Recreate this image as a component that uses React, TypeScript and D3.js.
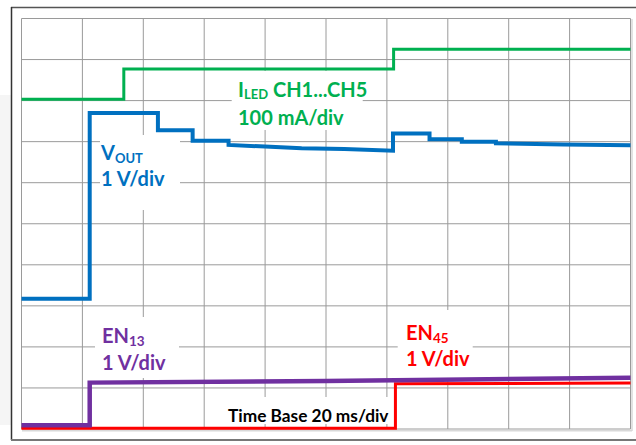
import React from "react";
import * as d3 from "d3";

// Time axis: 0..200 ms (20 ms/div, 10 div). Values in screen divisions from bottom (0..10).
const gridDivsX = d3.range(0, 11);
const gridDivsY = d3.range(0, 11);

const ledTrace: [number, number][] = [
  [0, 8.03], [33.6, 8.03], [33.6, 8.77], [122.2, 8.77], [122.2, 9.25], [200, 9.25],
];
const voutTrace: [number, number][] = [
  [0, 3.17], [22.4, 3.17], [22.4, 7.7], [44.8, 7.7], [44.8, 7.28], [56.2, 7.28],
  [56.2, 7.02], [68, 7.02], [68, 6.92], [80, 6.88], [92, 6.84], [106, 6.82],
  [122, 6.78], [122, 7.2], [134, 7.2], [134, 7.06], [144.6, 7.06], [144.6, 7.0],
  [155.8, 7.0], [155.8, 6.96], [178, 6.93], [200, 6.91],
];
const en13Trace: [number, number][] = [
  [0, 0.09], [22.4, 0.09], [22.4, 1.13], [100, 1.17], [200, 1.25],
];
const en45Trace: [number, number][] = [
  [0, 0.02], [122.8, 0.02], [122.8, 1.1], [200, 1.12],
];

const W = 636;
const H = 445;
const GX0 = 21.5, GX1 = 630.5, GY0 = 18.5, GY1 = 429;

const GREEN = "#00b050";
const BLUE = "#0070c0";
const PURPLE = "#7030a0";
const RED = "#ff0000";
const FONT = "Lato, 'Open Sans', sans-serif";

export default function App() {
  const x = d3.scaleLinear().domain([0, 200]).range([GX0, GX1]);
  const y = d3.scaleLinear().domain([0, 10]).range([GY1, GY0]);
  const line = d3.line<[number, number]>().x((d) => x(d[0])).y((d) => y(d[1]));

  const boxes = [
    { x: 231.7, y: 71, w: 131, h: 59 },
    { x: 100, y: 135, w: 80, h: 75 },
    { x: 95, y: 317, w: 84, h: 61 },
    { x: 397.7, y: 310, w: 75, h: 68 },
    { x: 224, y: 397, w: 167, h: 27 },
  ];

  return (
    <svg width={W} height={H} style={{ position: "absolute", left: 0, top: 0, background: "#fff" }}>
      <rect x={0} y={95} width={11} height={330} fill="#f5f5f5" />
      {/* outer frame */}
      <line x1={11} x2={636} y1={7.5} y2={7.5} stroke="#555" strokeWidth={1.5} />
      <line x1={11.5} x2={11.5} y1={7} y2={440} stroke="#333" strokeWidth={1.5} />
      <line x1={11} x2={636} y1={440} y2={440} stroke="#777" strokeWidth={2} />
      <line x1={632} x2={632} y1={19} y2={431} stroke="#d8d8d8" strokeWidth={1.5} />
      <line x1={22} x2={632} y1={430.8} y2={430.8} stroke="#d8d8d8" strokeWidth={1.5} />
      {/* grid */}
      {gridDivsX.map((d) => (
        <line key={"vx" + d} x1={x(d * 20)} x2={x(d * 20)} y1={GY0} y2={GY1} stroke="#9a9a9a" strokeWidth={1} />
      ))}
      {gridDivsY.map((d) => (
        <line key={"hy" + d} x1={GX0} x2={GX1} y1={y(d)} y2={y(d)} stroke="#9a9a9a" strokeWidth={1} />
      ))}
      {boxes.map((b, i) => (
        <rect key={i} x={b.x} y={b.y} width={b.w} height={b.h} fill="#fff" />
      ))}
      {/* traces */}
      <path d={line(ledTrace) || ""} fill="none" stroke={GREEN} strokeWidth={3} />
      <path d={line(voutTrace) || ""} fill="none" stroke={BLUE} strokeWidth={4} />
      <path d={line(en45Trace) || ""} fill="none" stroke={RED} strokeWidth={3} />
      <path d={line(en13Trace) || ""} fill="none" stroke={PURPLE} strokeWidth={4.5} />
      {/* labels */}
      <g fontFamily={FONT} fontWeight={700}>
        <text x={238} y={97.3} fill={GREEN} fontSize={20}>
          I<tspan fontSize={13} dy={1.5}>LED</tspan><tspan dy={-1.5}> CH1...CH5</tspan>
        </text>
        <text x={238} y={125} fill={GREEN} fontSize={20}>100 mA/div</text>
        <text x={101} y={159.5} fill={BLUE} fontSize={20}>
          V<tspan fontSize={13} dy={3}>OUT</tspan>
        </text>
        <text x={101} y={185.5} fill={BLUE} fontSize={20}>1 V/div</text>
        <text x={102} y={342.8} fill={PURPLE} fontSize={20}>
          EN<tspan fontSize={13.5} dy={3}>13</tspan>
        </text>
        <text x={102} y={369.5} fill={PURPLE} fontSize={20}>1 V/div</text>
        <text x={406} y={339.8} fill={RED} fontSize={20}>
          EN<tspan fontSize={13.5} dy={3}>45</tspan>
        </text>
        <text x={406} y={365.5} fill={RED} fontSize={20}>1 V/div</text>
        <text x={228} y={421.7} fill="#000" fontSize={17.3}>Time Base 20 ms/div</text>
      </g>
    </svg>
  );
}
